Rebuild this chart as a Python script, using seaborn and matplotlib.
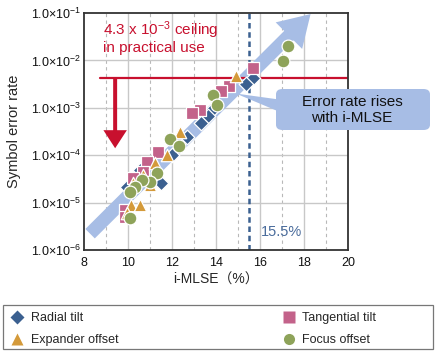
"""
    plot.py
    Symbol error rate vs. i-MLSE scatter with annotations.
"""
import numpy as np
import pandas as pd
import seaborn as sns
import matplotlib
matplotlib.use('Agg')
import matplotlib.pyplot as plt
from matplotlib.lines import Line2D
from matplotlib.patches import Rectangle, FancyBboxPatch

#################################################################################
# Data
#################################################################################

radial_x = [15.68, 15.36, 13.82, 13.64, 13.32, 12.68, 12.0, 11.5, 10.55, 9.95]
radial_y = [4.3e-3, 3.2e-3, 8.9e-4, 6.8e-4, 4.8e-4, 2.4e-4, 1.0e-4, 2.6e-5, 4.9e-5, 2.1e-5]

tangential_x = [15.68, 14.59, 14.23, 13.27, 12.91, 11.36, 10.86, 10.68, 10.2, 9.86, 9.86]
tangential_y = [6.9e-3, 2.9e-3, 2.3e-3, 9.0e-4, 7.8e-4, 1.17e-4, 7.2e-5, 4.4e-5, 3.3e-5, 7.0e-6, 5.0e-6]

expander_x = [14.91, 12.36, 11.77, 11.23, 11.0, 10.68, 10.23, 10.14, 10.55, 9.95]
expander_y = [4.7e-3, 3.1e-4, 1.0e-4, 6.8e-5, 2.3e-5, 3.8e-5, 2.6e-5, 8.9e-6, 8.9e-6, 6.0e-6]

focus_x = [17.27, 17.05, 13.86, 14.05, 11.91, 12.32, 11.32, 11.0, 10.64, 10.32, 10.09, 10.09]
focus_y = [2.0e-2, 9.7e-3, 1.9e-3, 1.15e-3, 2.2e-4, 1.55e-4, 4.2e-5, 2.7e-5, 3.0e-5, 2.1e-5, 1.7e-5, 4.7e-6]

labels = ['Radial tilt', 'Tangential tilt', 'Expander offset', 'Focus offset']
ceiling = 4.3e-3
limit_mlse = 15.5

x_ticks = [8, 10, 12, 14, 16, 18, 20]
y_ticks = [1e-6, 1e-5, 1e-4, 1e-3, 1e-2, 1e-1]
y_ticklabels = [r'1.0×10$^{-%d}$' % k for k in [6, 5, 4, 3, 2, 1]]

#################################################################################
# Style
#################################################################################

COLORS = {'Radial tilt': '#3b6090', 'Tangential tilt': '#c3628a',
          'Expander offset': '#d49a3a', 'Focus offset': '#8ea35a'}
MARKERS = {'Radial tilt': 'D', 'Tangential tilt': 's',
           'Expander offset': '^', 'Focus offset': 'o'}
SIZES = {'Radial tilt': 55, 'Tangential tilt': 75,
         'Expander offset': 80, 'Focus offset': 85}
ARROW_BLUE = '#a7bde5'
RED = '#c8102e'

sns.set_style('ticks')
plt.rcParams['font.family'] = ['Liberation Sans', 'Noto Sans CJK JP', 'DejaVu Sans']
plt.rcParams['mathtext.default'] = 'regular'

#################################################################################
# Plot
#################################################################################

df = pd.concat([
    pd.DataFrame({'mlse': radial_x, 'ser': radial_y, 'type': labels[0]}),
    pd.DataFrame({'mlse': tangential_x, 'ser': tangential_y, 'type': labels[1]}),
    pd.DataFrame({'mlse': expander_x, 'ser': expander_y, 'type': labels[2]}),
    pd.DataFrame({'mlse': focus_x, 'ser': focus_y, 'type': labels[3]}),
])

fig = plt.figure(figsize=(4.36, 3.52), dpi=100)
ax = fig.add_axes([0.193, 0.290, 0.605, 0.673])
ax.set_yscale('log')
ax.set_xlim(8, 20)
ax.set_ylim(1e-6, 1e-1)

# Grid: solid on even x and decades, dashed on odd x.
for xv in range(9, 20, 2):
    ax.axvline(xv, color='#b8b8b8', lw=0.8, ls=(0, (3, 3)), zorder=0)
for xv in range(10, 20, 2):
    ax.axvline(xv, color='#c8c8c8', lw=1.0, zorder=0)
for yv in y_ticks[1:-1]:
    ax.axhline(yv, color='#c8c8c8', lw=1.0, zorder=0)

# Big trend arrow.
ax.annotate('', xy=(18.3, 0.095), xytext=(8.27, 2.2e-6),
            arrowprops=dict(arrowstyle='simple,head_length=1.1,head_width=1.35,tail_width=0.48',
                            mutation_scale=20, fc=ARROW_BLUE, ec='none',
                            shrinkA=0, shrinkB=0),
            zorder=1, annotation_clip=False)

# Ceiling line and arrow.
ax.plot([8.7, 20], [ceiling, ceiling], color=RED, lw=1.6, zorder=2)
ax.annotate('', xy=(9.41, 1.4e-4), xytext=(9.41, ceiling),
            arrowprops=dict(arrowstyle='simple,head_length=1.0,head_width=1.3,tail_width=0.22',
                            mutation_scale=13, fc=RED, ec='none',
                            shrinkA=0, shrinkB=0), zorder=2)
ax.text(8.85, 3.1e-2, '4.3 x 10$^{-3}$ ceiling\nin practical use', color=RED,
        fontsize=11, va='center', ha='left', linespacing=1.05, zorder=3)

# 15.5% limit.
ax.axvline(limit_mlse, color='#3b6090', lw=1.8, ls=(0, (2.2, 1.5)), zorder=2)
ax.text(16.05, 2.4e-6, '15.5%', color='#4a6c9c', fontsize=10.5,
        va='center', ha='left', zorder=3)

# Scatter markers per condition.
for lab in labels:
    sub = df[df['type'] == lab]
    sns.scatterplot(data=sub, x='mlse', y='ser', ax=ax, marker=MARKERS[lab],
                    color=COLORS[lab], s=SIZES[lab], edgecolor='white',
                    linewidth=0.9, zorder=4, legend=False)

# Ticks, labels, spines.
ax.set_xticks(x_ticks)
ax.set_yticks(y_ticks)
ax.set_yticklabels(y_ticklabels)
ax.minorticks_off()
ax.tick_params(axis='both', length=0, labelsize=9, colors='#111111')
ax.tick_params(axis='x', pad=5)
ax.tick_params(axis='y', pad=2)
ax.set_xlabel('i-MLSE（%）', fontsize=10, labelpad=3)
ax.set_ylabel('Symbol error rate', fontsize=10.5, labelpad=7)
for sp in ax.spines.values():
    sp.set_color('#333333')
    sp.set_linewidth(1.3)

# Callout box.
box = FancyBboxPatch((276 / 436, 1 - 130 / 352), 154 / 436, 41 / 352,
                     boxstyle='round,pad=0,rounding_size=0.015',
                     transform=fig.transFigure, fc=ARROW_BLUE, ec='none', zorder=5)
fig.patches.append(box)
ax.annotate('', xy=(14.9, 2.0e-3), xycoords='data',
            xytext=(285 / 436, 1 - 107 / 352), textcoords='figure fraction',
            arrowprops=dict(arrowstyle='wedge,tail_width=0.8', mutation_scale=12,
                            fc=ARROW_BLUE, ec='none', shrinkA=0, shrinkB=0),
            zorder=5, annotation_clip=False)
fig.text(352 / 436, 1 - 110 / 352, 'Error rate rises\nwith i-MLSE', fontsize=11,
         ha='center', va='center', color='#111111', linespacing=1.1, zorder=6)

# Legend below with a rectangular frame.
fig.patches.append(Rectangle((3 / 436, 1 - 349 / 352), 430 / 436, 44 / 352,
                             transform=fig.transFigure, fill=False,
                             ec='#777777', lw=0.9))
order = [labels[0], labels[2], labels[1], labels[3]]
handles = [Line2D([], [], ls='none', marker=MARKERS[l], color=COLORS[l],
                  markersize=8 if l != 'Radial tilt' else 7, markeredgecolor='none')
           for l in order]
fig.legend(handles=handles, labels=order,
           ncol=2, loc='upper left', bbox_to_anchor=(11 / 436, 1 - 312 / 352),
           frameon=False, fontsize=9, labelspacing=0.8, handlelength=1.0,
           handletextpad=0.6, columnspacing=13.1, borderpad=0,
           borderaxespad=0)

plt.savefig('out.png', dpi=100)
